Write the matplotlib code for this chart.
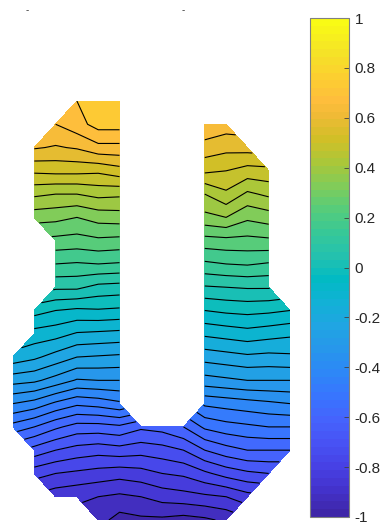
import numpy as np
import matplotlib
matplotlib.use("Agg")
import matplotlib.pyplot as plt
from matplotlib.colors import LinearSegmentedColormap, Normalize
from matplotlib.cm import ScalarMappable

plt.rcParams['font.family'] = ['Liberation Sans', 'DejaVu Sans']

# ------------------------------------------------------------
# data: field values on a 19 x 14 grid (NaN = outside the part)
# ------------------------------------------------------------
n = np.nan
z_rows = [
    [n, n, n, 0.70, 0.745, 0.745, n, n, n, n, n, n, n, n],
    [n, n, 0.65, 0.68, 0.72, 0.72, n, n, n, 0.64, 0.625, n, n, n],
    [n, 0.605, 0.595, 0.605, 0.635, 0.635, n, n, n, 0.58, 0.565, 0.57, n, n],
    [n, 0.51, 0.515, 0.515, 0.51, 0.53, n, n, n, 0.51, 0.50, 0.48, 0.485, n],
    [n, 0.41, 0.40, 0.40, 0.415, 0.41, n, n, n, 0.40, 0.44, 0.39, 0.41, n],
    [n, 0.32, 0.315, 0.30, 0.32, 0.325, n, n, n, 0.335, 0.35, 0.31, 0.325, n],
    [n, n, 0.235, 0.23, 0.24, 0.235, n, n, n, 0.23, 0.235, 0.235, 0.24, n],
    [n, n, 0.15, 0.145, 0.15, 0.145, n, n, n, 0.14, 0.15, 0.155, 0.145, n],
    [n, n, 0.06, 0.06, 0.035, 0.03, n, n, n, 0.045, 0.05, 0.055, 0.055, n],
    [n, -0.03, -0.05, -0.06, -0.055, -0.06, n, n, n, -0.05, -0.04, -0.035, -0.04, -0.05],
    [n, -0.12, -0.13, -0.155, -0.16, -0.165, n, n, n, -0.14, -0.13, -0.12, -0.13, -0.14],
    [-0.17, -0.19, -0.22, -0.25, -0.255, -0.26, n, n, n, -0.23, -0.22, -0.21, -0.215, -0.21],
    [-0.28, -0.29, -0.32, -0.355, -0.35, -0.35, n, n, n, -0.32, -0.31, -0.30, -0.30, -0.30],
    [-0.40, -0.42, -0.46, -0.49, -0.48, -0.46, n, n, n, -0.44, -0.43, -0.42, -0.41, -0.40],
    [-0.52, -0.55, -0.59, -0.62, -0.62, -0.61, -0.64, -0.63, -0.60, -0.54, -0.52, -0.51, -0.50, -0.50],
    [n, -0.67, -0.70, -0.72, -0.73, -0.72, -0.73, -0.72, -0.70, -0.65, -0.62, -0.60, -0.60, -0.60],
    [n, -0.78, -0.80, -0.81, -0.82, -0.83, -0.82, -0.80, -0.79, -0.76, -0.73, -0.71, -0.70, n],
    [n, n, -0.88, -0.89, -0.90, -0.91, -0.90, -0.88, -0.87, -0.86, -0.85, -0.82, n, n],
    [n, n, n, n, -0.93, -0.97, -0.96, -0.96, -0.97, -0.96, -0.94, n, n, n],
]
levels = np.round(np.linspace(-1, 1, 41), 2)
cbar_ticks = np.round(np.linspace(-1, 1, 11), 1)

Z = np.ma.masked_invalid(np.array(z_rows))
cols = np.arange(Z.shape[1])
rows = np.arange(Z.shape[0])
X, Y = np.meshgrid(cols, rows)

# parula-like colormap
parula = [
    (0.2422, 0.1504, 0.6603), (0.2647, 0.1978, 0.7952), (0.2783, 0.2559, 0.8991),
    (0.2810, 0.3228, 0.9579), (0.2699, 0.3892, 0.9906), (0.2206, 0.4603, 0.9973),
    (0.1786, 0.5289, 0.9682), (0.1540, 0.5902, 0.9218), (0.1248, 0.6459, 0.8883),
    (0.0689, 0.6948, 0.8394), (0.0067, 0.7312, 0.7660), (0.1408, 0.7584, 0.6842),
    (0.2161, 0.7843, 0.5923), (0.3406, 0.8008, 0.4789), (0.5044, 0.7993, 0.3480),
    (0.6720, 0.7793, 0.2227), (0.8203, 0.7498, 0.1535), (0.9393, 0.7288, 0.2100),
    (0.9956, 0.7434, 0.2371), (0.9892, 0.8136, 0.1885), (0.9610, 0.8890, 0.1537),
    (0.9769, 0.9839, 0.0805),
]
pos = np.array([1, 4, 7, 10, 13, 16, 19, 22, 25, 28, 31, 34, 37, 40, 43, 46, 49, 52, 54, 57, 60, 64])
cmap = LinearSegmentedColormap.from_list("parula", list(zip((pos - 1) / 63, parula)), N=64)
norm = Normalize(vmin=-1, vmax=1)

fig = plt.figure(figsize=(3.87, 5.27), dpi=100)
ax = fig.add_axes([13 / 387, 7 / 527, 277 / 387, 419 / 527])
ax.contourf(X, Y, Z, levels=levels, cmap=cmap, norm=norm)
ax.contour(X, Y, Z, levels=levels, colors="k", linewidths=0.8, linestyles="solid")
ax.set_xlim(0, 13)
ax.set_ylim(18, 0)
ax.axis("off")

cax = fig.add_axes([310 / 387, 10 / 527, 39 / 387, 499 / 527])
cb = fig.colorbar(ScalarMappable(norm=norm, cmap=cmap), cax=cax, ticks=cbar_ticks)
cb.ax.set_yticklabels([f"{t:g}" for t in cbar_ticks])
cb.ax.tick_params(direction="in", length=3.5, width=0.6, color="#404040",
                  labelsize=11, labelcolor="#262626", pad=4)
cb.outline.set_edgecolor("#808080")
cb.outline.set_linewidth(0.8)

# cropped tick marks at the very top
fig.text(27 / 387, 1 - 10 / 527, "-", fontsize=7, ha="center", va="center", color="#333333")
fig.text(183 / 387, 1 - 10 / 527, "-", fontsize=7, ha="center", va="center", color="#333333")

fig.savefig("out.png", dpi=100)
